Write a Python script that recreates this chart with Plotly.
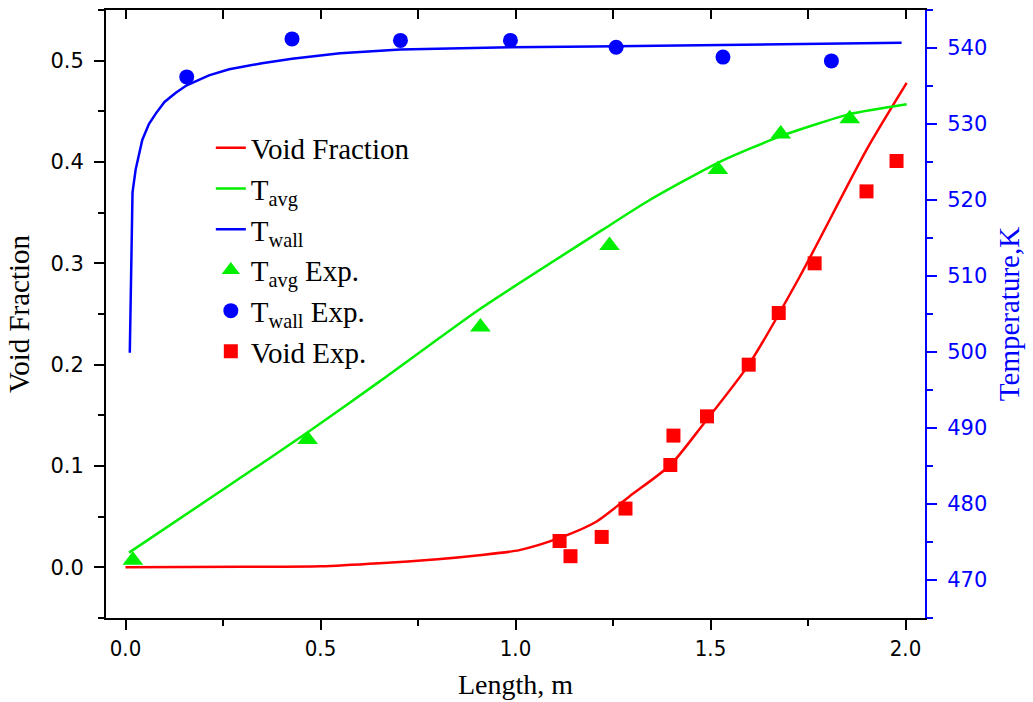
import plotly.graph_objects as go

# Simulated profiles along the heated length
length_void = [0.0, 0.3, 0.5, 0.651, 0.8, 0.907, 1.01, 1.113, 1.207, 1.292, 1.397, 1.481, 1.598, 1.729, 1.9, 2.003]
void_fraction = [0.0, 0.0005, 0.001, 0.004, 0.008, 0.012, 0.017, 0.029, 0.045, 0.070, 0.101, 0.141, 0.200, 0.287, 0.412, 0.478]

length_tavg = [0.009, 0.25, 0.472, 0.651, 0.907, 1.224, 1.344, 1.519, 1.68, 1.857, 2.003]
t_avg = [473.6, 481.9, 489.6, 496.1, 505.6, 516.1, 520.0, 524.9, 528.4, 531.3, 532.6]

length_twall = [0.011, 0.013, 0.016, 0.018, 0.026, 0.043, 0.06, 0.078, 0.1, 0.129, 0.157, 0.19, 0.214,
                0.266, 0.35, 0.427, 0.55, 0.705, 0.85, 0.987, 1.2, 1.5, 1.8, 1.99]
t_wall = [499.9, 507.8, 516.5, 521.0, 524.0, 527.9, 530.0, 531.4, 532.9, 534.1, 535.1, 535.9, 536.4,
          537.2, 538.0, 538.6, 539.3, 539.8, 540.0, 540.1, 540.2, 540.4, 540.6, 540.7]

# Experimental measurements
exp_tavg_x = [0.019, 0.467, 0.91, 1.241, 1.519, 1.68, 1.857]
exp_tavg = [472.6, 488.5, 503.3, 514.0, 524.0, 528.7, 530.7]

exp_twall_x = [0.157, 0.427, 0.705, 0.987, 1.258, 1.532, 1.810]
exp_twall = [536.2, 541.2, 541.0, 541.0, 540.1, 538.8, 538.3]

exp_void_x = [1.113, 1.141, 1.221, 1.282, 1.397, 1.405, 1.491, 1.598, 1.675, 1.767, 1.9, 1.977]
exp_void = [0.026, 0.011, 0.030, 0.058, 0.101, 0.130, 0.149, 0.200, 0.251, 0.300, 0.371, 0.401]

RED, GREEN, BLUE = "#ff0000", "#00ee00", "#0000ff"
SERIF = "Liberation Serif, Times New Roman, serif"
SANS = "DejaVu Sans, sans-serif"

fig = go.Figure()
fig.add_trace(go.Scatter(x=length_void, y=void_fraction, mode="lines", name="Void Fraction",
                         line=dict(color=RED, width=2.5, shape="spline", smoothing=0.7), yaxis="y"))
fig.add_trace(go.Scatter(x=length_tavg, y=t_avg, mode="lines", name="T<sub>avg</sub>",
                         line=dict(color=GREEN, width=2.5, shape="spline", smoothing=0.6), yaxis="y2"))
fig.add_trace(go.Scatter(x=length_twall, y=t_wall, mode="lines", name="T<sub>wall</sub>",
                         line=dict(color=BLUE, width=2.5), yaxis="y2"))
fig.add_trace(go.Scatter(x=exp_tavg_x, y=exp_tavg, mode="markers", name="T<sub>avg</sub> Exp.",
                         marker=dict(symbol="triangle-up", size=18, color=GREEN), yaxis="y2"))
fig.add_trace(go.Scatter(x=exp_twall_x, y=exp_twall, mode="markers", name="T<sub>wall</sub> Exp.",
                         marker=dict(symbol="circle", size=15, color=BLUE), yaxis="y2"))
fig.add_trace(go.Scatter(x=exp_void_x, y=exp_void, mode="markers", name="Void Exp.",
                         marker=dict(symbol="square", size=14, color=RED), yaxis="y"))
# invisible trace to carry the top frame axis
fig.add_trace(go.Scatter(x=[0], y=[0], mode="markers", marker=dict(opacity=0), showlegend=False,
                         hoverinfo="skip", xaxis="x2", yaxis="y"))

fig.update_layout(
    width=1033, height=702,
    margin=dict(l=106, r=108, t=10, b=84),
    paper_bgcolor="white", plot_bgcolor="white",
    showlegend=True,
    legend=dict(x=0.128, y=0.815, xanchor="left", yanchor="top", bgcolor="rgba(0,0,0,0)",
                font=dict(family=SERIF, size=29, color="black"), tracegroupgap=0),
    xaxis=dict(range=[-0.05, 2.05], showgrid=False, zeroline=False, automargin=False,
               showline=True, linecolor="black", linewidth=2,
               ticks="outside", ticklen=10, tickwidth=2, tickcolor="black",
               dtick=0.5, tick0=0, tickformat=".1f",
               minor=dict(dtick=0.25, ticks="outside", ticklen=6, tickwidth=2, tickcolor="black"),
               tickfont=dict(family="Liberation Sans Narrow, DejaVu Sans Condensed, Arial Narrow, sans-serif",
                             size=22, color="black"),
               title=dict(text="Length, m", font=dict(family=SERIF, size=28, color="black"), standoff=14)),
    xaxis2=dict(range=[-0.05, 2.05], overlaying="x", side="top", showgrid=False, zeroline=False,
                showline=True, linecolor="black", linewidth=2, automargin=False,
                ticks="inside", ticklen=9, tickwidth=2, tickcolor="black",
                dtick=0.25, tick0=0, showticklabels=False),
    yaxis=dict(range=[-0.05, 0.55], showgrid=False, zeroline=False, automargin=False,
               showline=True, linecolor="black", linewidth=2,
               ticks="outside", ticklen=10, tickwidth=2, tickcolor="black",
               dtick=0.1, tick0=0, tickformat=".1f", ticklabelstandoff=6,
               minor=dict(dtick=0.05, ticks="outside", ticklen=6, tickwidth=2, tickcolor="black"),
               tickfont=dict(family=SANS, size=21, color="black"),
               title=dict(text="Void Fraction", font=dict(family=SERIF, size=29, color="black"), standoff=12)),
    yaxis2=dict(range=[465, 545], overlaying="y", side="right", showgrid=False, zeroline=False,
                showline=True, linecolor=BLUE, linewidth=2, automargin=False,
                ticks="outside", ticklen=10, tickwidth=2, tickcolor=BLUE,
                dtick=10, tick0=470, ticklabelstandoff=6,
                minor=dict(dtick=5, ticks="outside", ticklen=6, tickwidth=2, tickcolor=BLUE),
                tickfont=dict(family=SANS, size=21, color=BLUE),
                title=dict(text="Temperature,K", font=dict(family=SERIF, size=29, color=BLUE), standoff=12)),
)

fig.write_html("out.html")
